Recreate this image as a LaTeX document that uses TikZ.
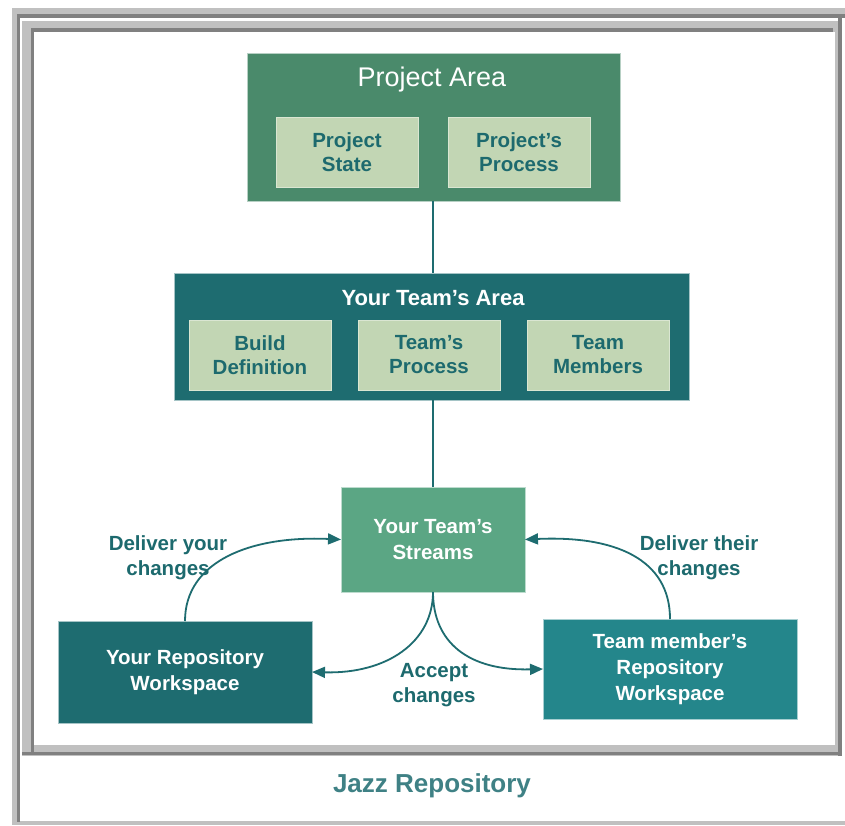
\documentclass[tikz,border=0pt]{standalone}
\usepackage{fontspec}
\setmainfont{Liberation Sans}
\usetikzlibrary{arrows.meta}
\definecolor{pgreen}{HTML}{4A8A6B}
\definecolor{lightbox}{HTML}{C2D6B4}
\definecolor{tealdark}{HTML}{1E6C70}
\definecolor{streamgreen}{HTML}{5BA684}
\definecolor{memberteal}{HTML}{24868B}
\definecolor{textteal}{HTML}{1D6A6E}
\definecolor{captionteal}{HTML}{3F8185}
\definecolor{framelight}{HTML}{C0C0C0}
\definecolor{framedark}{HTML}{808080}
\tikzset{
  x=1pt, y=-1pt,
  box/.style={rectangle, inner sep=0pt, outer sep=0pt, anchor=north west, align=center},
  bigbox/.style={box, draw=white!60!#1, line width=0.6pt, fill=#1},
  subbox/.style={box, fill=lightbox, draw=white!40!lightbox, line width=0.6pt,
    minimum width=142pt, minimum height=70pt, text=textteal,
    font=\fontsize{20.5}{24}\selectfont\bfseries},
  wtext/.style={text=white, font=\fontsize{20.5}{26}\selectfont\bfseries, align=center, inner sep=0pt},
  lbl/.style={text=textteal, font=\fontsize{20.5}{25}\selectfont\bfseries, align=center, inner sep=0pt},
  link/.style={draw=tealdark, line width=1.4pt},
  flow/.style={draw=tealdark, line width=1.8pt, -{Triangle[length=13pt,width=11pt]}},
}
\begin{document}
\begin{tikzpicture}
% background and frame
\fill[white] (0,0) rectangle (845,825);
\useasboundingbox (0,0) rectangle (845,825);
\fill[framelight] (12,8) rectangle (845,14);
\fill[framelight] (12,8) rectangle (17,825);
\fill[framelight] (12,821) rectangle (845,825);
\fill[framedark] (17,14) rectangle (845,18);
\fill[framedark] (17,14) rectangle (20,822);
\fill[framelight] (22,21) rectangle (838,756);
\fill[framedark] (838,17) rectangle (842,756);
\fill[framedark] (22,752) rectangle (842,755);
\fill[framedark] (31,28) rectangle (34,752);
\fill[framedark] (31,28) rectangle (833,32);
\fill[white] (34,32) rectangle (835,745);

% Project area
\node[bigbox=pgreen, minimum width=373pt, minimum height=148pt] (pa) at (247,53) {};
\node[text=white, font=\fontsize{27}{30}\selectfont, inner sep=0pt] (pat) at (432,80) {Project Area};
\node[subbox] (ps) at (276,117) {Project\\State};
\node[subbox] (pp) at (448,117) {Project's\\Process};

% Team area
\node[bigbox=tealdark, minimum width=515pt, minimum height=127pt] (ta) at (174,273) {};
\node[wtext, font=\fontsize{22}{26}\selectfont\bfseries] (tat) at (433,298) {Your Team's Area};
\node[subbox] (bd) at (189,320) {Build\\Definition};
\node[subbox] (tp) at (358,320) {Team's\\Process};
\node[subbox] (tm) at (527,320) {Team\\Members};

% Streams and workspaces
\node[bigbox=streamgreen, minimum width=184pt, minimum height=105pt] (ts) at (341,487) {};
\node[wtext] (tst) at (ts.center) {Your Team's\\Streams};
\node[bigbox=tealdark, minimum width=254pt, minimum height=102pt] (yw) at (58,621) {};
\node[wtext] (ywt) at (yw.center) {Your Repository\\Workspace};
\node[bigbox=memberteal, minimum width=254pt, minimum height=100pt] (tw) at (543,619) {};
\node[wtext] (twt) at (tw.center) {Team member's\\Repository\\Workspace};

% connectors
\draw[link] (pa.south -| ts.north) -- (ta.north -| ts.north);
\draw[link] (ta.south -| ts.north) -- (ts.north);
\draw[flow] (yw.north) .. controls +(0,-60) and +(-90,-4) .. (ts.west);
\draw[flow] (tw.north) .. controls +(0,-60) and +(90,-4) .. (ts.east);
\draw[flow] (ts.south) .. controls +(0,50) and +(75,2) .. (yw.east);
\draw[flow] (ts.south) .. controls +(0,50) and +(-75,2) .. (tw.west);

% labels
\node[lbl] (ldy) at (168,558) {Deliver your\\changes};
\node[lbl] (ldt) at (699,558) {Deliver their\\changes};
\node[lbl] (lac) at (434,685) {Accept\\changes};
\node[text=captionteal, font=\fontsize{26}{30}\selectfont\bfseries, inner sep=0pt] (cap) at (432,786) {Jazz Repository};
\end{tikzpicture}
\end{document}
